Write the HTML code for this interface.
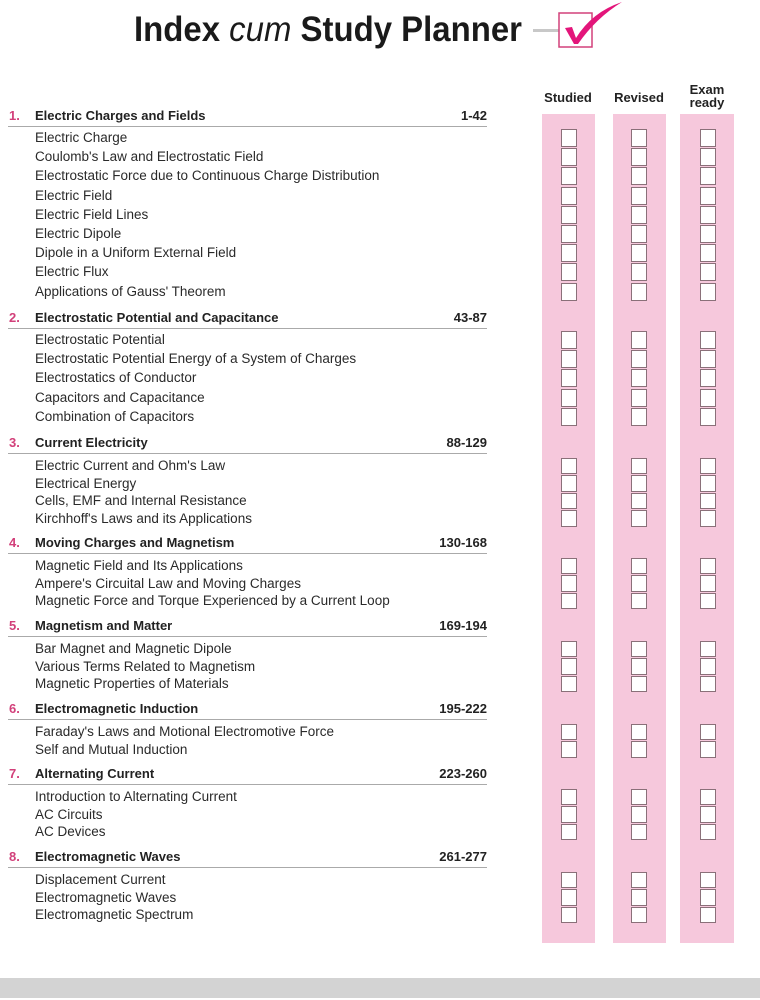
<!DOCTYPE html>
<html><head><meta charset="utf-8"><style>
body{margin:0;width:760px;height:1000px;background:#fff;position:relative;overflow:hidden;font-family:"Liberation Sans",sans-serif;color:#222}
.a{position:absolute;white-space:nowrap}
.item{font-size:13.5px;left:35px;line-height:16px;color:#2a2a2a}
.hd{font-size:13px;font-weight:bold;line-height:16px}
.num{left:9px;color:#d2407a}
.ttl{left:35px}
.rng{right:273px}
.ul{position:absolute;left:8px;width:479px;height:1px;background:#aaa}
.band{position:absolute;top:114px;height:829px;background:#f6c8dc}
.box{position:absolute;width:14px;background:#fff;border:1.3px solid #8a7079;box-sizing:content-box}
.col{font-size:13px;font-weight:bold;text-align:center;width:60px;line-height:13px}
</style></head><body>
<svg class="a" style="left:0;top:0" width="760" height="60">
<text x="134" y="41" font-size="35" font-weight="bold" textLength="388" lengthAdjust="spacingAndGlyphs" fill="#1a1a1a" font-family="Liberation Sans, sans-serif">Index <tspan font-style="italic" font-weight="normal">cum</tspan> Study Planner</text>
<rect x="533" y="29" width="26" height="3" fill="#c8c8c8"/>
<rect x="559" y="13" width="33" height="34" fill="#fff" stroke="#d2407a" stroke-width="1.5"/>
<path d="M565 28 L572 27 L576 38 Q592 12 622 2 Q596 18 578 44 L574 44 Z" fill="#e3157a"/>
</svg>
<div class="a col" style="left:538px;top:91px">Studied</div>
<div class="a col" style="left:609px;top:91px">Revised</div>
<div class="a col" style="left:677px;top:83px">Exam<br>ready</div>
<div class="band" style="left:542px;width:53px"></div>
<div class="band" style="left:613px;width:53px"></div>
<div class="band" style="left:680px;width:54px"></div>
<div class="a" style="left:0;top:978px;width:760px;height:20px;background:#d3d3d3"></div>
<script>
const sections=[
["1.","Electric Charges and Fields","1-42",116,["Electric Charge","Coulomb's Law and Electrostatic Field","Electrostatic Force due to Continuous Charge Distribution","Electric Field","Electric Field Lines","Electric Dipole","Dipole in a Uniform External Field","Electric Flux","Applications of Gauss' Theorem"],138,19.2],
["2.","Electrostatic Potential  and Capacitance","43-87",318,["Electrostatic Potential","Electrostatic Potential Energy of a System of Charges","Electrostatics of Conductor","Capacitors and Capacitance","Combination of Capacitors"],340,19.2],
["3.","Current Electricity","88-129",443,["Electric Current and Ohm's Law","Electrical Energy","Cells, EMF and Internal Resistance","Kirchhoff's Laws and its Applications"],466,17.5],
["4.","Moving Charges and Magnetism","130-168",543,["Magnetic Field and Its Applications","Ampere's Circuital Law and Moving Charges","Magnetic Force and Torque Experienced by a Current Loop"],566,17.5],
["5.","Magnetism and Matter","169-194",626,["Bar Magnet and Magnetic Dipole","Various Terms Related to Magnetism","Magnetic Properties of Materials"],649,17.5],
["6.","Electromagnetic Induction","195-222",709,["Faraday's Laws and Motional Electromotive Force","Self and Mutual Induction"],732,17.5],
["7.","Alternating Current","223-260",774,["Introduction to Alternating Current","AC Circuits","AC Devices"],797,17.5],
["8.","Electromagnetic Waves","261-277",857,["Displacement Current","Electromagnetic Waves","Electromagnetic Spectrum"],880,17.5]];
const boxX=[561,631,700];
function add(cls,txt,style,name,inter){const d=document.createElement('div');d.className=cls;if(txt!==null)d.textContent=txt;d.style.cssText=style;


document.body.appendChild(d);return d;}
sections.forEach((s,si)=>{
 add('a hd num',s[0],'top:'+(s[3]-8)+'px','section-number','false');
 add('a hd ttl',s[1],'top:'+(s[3]-8)+'px','section-title','false');
 add('a hd rng',s[2],'top:'+(s[3]-8)+'px','page-range','false');
 add('ul',null,'top:'+(s[3]+10)+'px','section-underline','false');
 s[4].forEach((t,i)=>{const y=s[5]+i*s[6];
  add('a item',t,'top:'+(y-8)+'px','topic-item','false');
  const h=s[6]-3;
  boxX.forEach(x=>add('box',null,'left:'+x+'px;top:'+(y-h/2-1)+'px;height:'+h+'px','checkbox','true'));
 });
});
</script>
</body></html>
